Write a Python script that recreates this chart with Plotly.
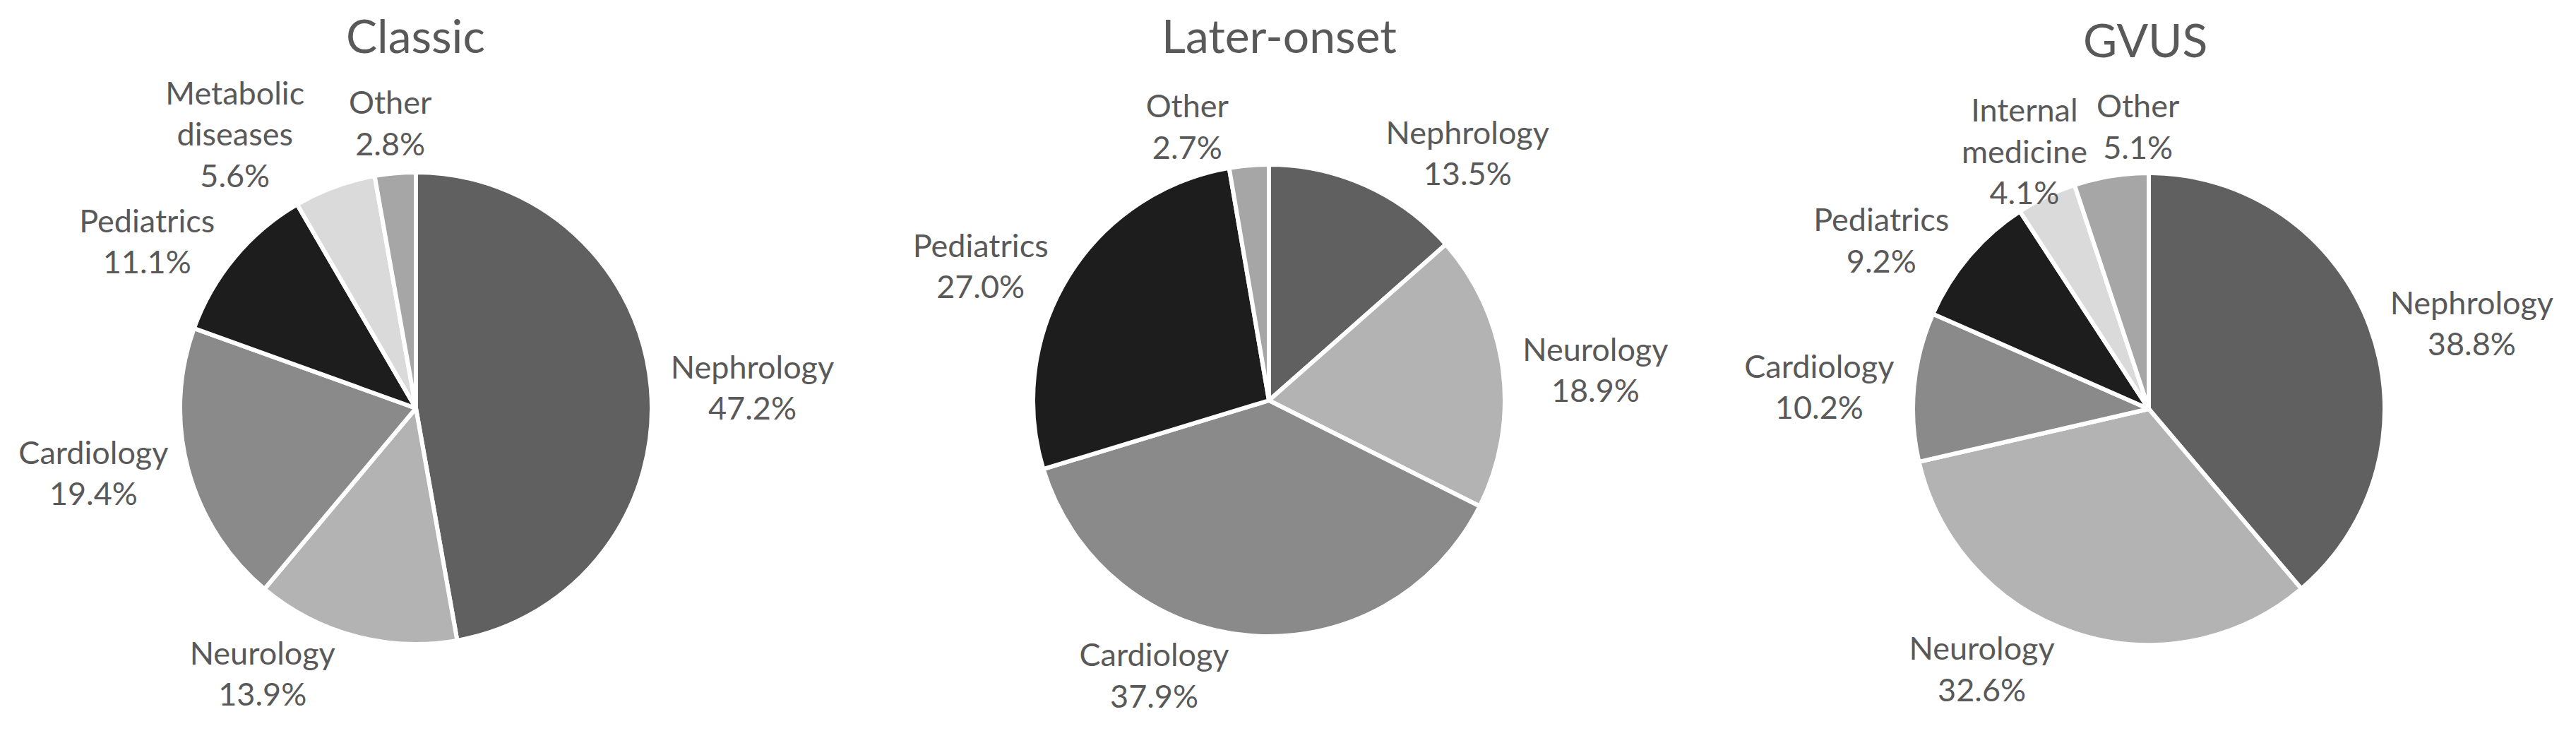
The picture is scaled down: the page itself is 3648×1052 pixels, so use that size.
import math
import plotly.graph_objects as go

# --- data ---
classic_labels = ['Nephrology', 'Neurology', 'Cardiology', 'Pediatrics', 'Metabolic<br>diseases', 'Other']
classic_values = [47.2, 13.9, 19.4, 11.1, 5.6, 2.8]

later_labels = ['Nephrology', 'Neurology', 'Cardiology', 'Pediatrics', 'Other']
later_values = [13.5, 18.9, 37.9, 27.0, 2.7]

gvus_labels = ['Nephrology', 'Neurology', 'Cardiology', 'Pediatrics', 'Internal<br>medicine', 'Other']
gvus_values = [38.8, 32.6, 10.2, 9.2, 4.1, 5.1]

titles = ['Classic', 'Later-onset', 'GVUS']

# --- styling ---
PAGE_PAD = 8                      # default body margin of the html page
W, H = 3648 - 2 * PAGE_PAD, 1052 - 2 * PAGE_PAD
R = 331                           # visible pie radius in px
FONT = 'Lato'
TXT = '#595959'
LABEL_SIZE = 45
TITLE_SIZE = 66

colour_map = {
    'Nephrology': '#606060',
    'Neurology': '#b3b3b3',
    'Cardiology': '#8a8a8a',
    'Pediatrics': '#1d1d1d',
    'Metabolic<br>diseases': '#dadada',
    'Internal<br>medicine': '#dadada',
    'Other': '#a6a6a6',
}

# pie centres, page px
centres = [(589, 578), (1797, 567), (3043, 579)]
# title centre x and top y, page px
title_pos = [(588, 8), (1811, 8), (3038, 14)]
# small slices near 12 o'clock: labels set above the pie instead of plotly's stacked ones
top_labels = [['Other'], [], ['Internal<br>medicine', 'Other']]


def fx(px):
    return (px - PAGE_PAD) / W


def fy(py):
    return 1 - (py - PAGE_PAD) / H


def domain(cx, cy, r):
    return dict(x=[fx(cx - r), fx(cx + r)], y=[fy(cy + r), fy(cy - r)])


def text_width(s):
    # rough width of the widest line
    return max(len(part) for part in s.split('<br>')) * 0.5 * LABEL_SIZE


fig = go.Figure()

datasets = [(classic_labels, classic_values), (later_labels, later_values), (gvus_labels, gvus_values)]

for (labels, values), (cx, cy), tops in zip(datasets, centres, top_labels):
    fig.add_trace(go.Pie(
        labels=labels,
        values=values,
        sort=False,
        direction='clockwise',
        rotation=0,
        marker=dict(colors=[colour_map[l] for l in labels],
                    line=dict(color='white', width=6)),
        texttemplate='%{label}<br>%{value:.1f}%',
        textposition=['none' if l in tops else 'outside' for l in labels],
        outsidetextfont=dict(family=FONT, size=LABEL_SIZE, color=TXT),
        domain=domain(cx, cy, R + 3),
        showlegend=False,
        hoverinfo='label+value',
    ))

    # top labels: centred on the slice's mid-angle ray, pushed right if they would touch
    total = sum(values)
    cum = 0
    prev_right = None
    for l, v in zip(labels, values):
        mid = (cum + v / 2) / total * 2 * math.pi
        cum += v
        if l not in tops:
            continue
        d = R + 75
        x = cx + d * math.sin(mid)
        y = cy - d * math.cos(mid)
        w = text_width(l)
        if prev_right is not None and x - w / 2 < prev_right + 15:
            x = prev_right + 15 + w / 2
        prev_right = x + w / 2
        fig.add_annotation(
            text=f'{l}<br>{v:.1f}%',
            x=fx(x), y=fy(y),
            xref='paper', yref='paper', xanchor='center', yanchor='middle',
            showarrow=False,
            font=dict(family=FONT, size=LABEL_SIZE, color=TXT),
        )

for t, (tx, ty) in zip(titles, title_pos):
    fig.add_annotation(
        text=t, x=fx(tx), y=fy(ty), xref='paper', yref='paper',
        xanchor='center', yanchor='top', showarrow=False,
        font=dict(family=FONT, size=TITLE_SIZE, color=TXT),
    )

fig.update_layout(
    width=W, height=H,
    margin=dict(l=0, r=0, t=0, b=0),
    paper_bgcolor='white',
    plot_bgcolor='white',
)

fig.write_html('out.html')
